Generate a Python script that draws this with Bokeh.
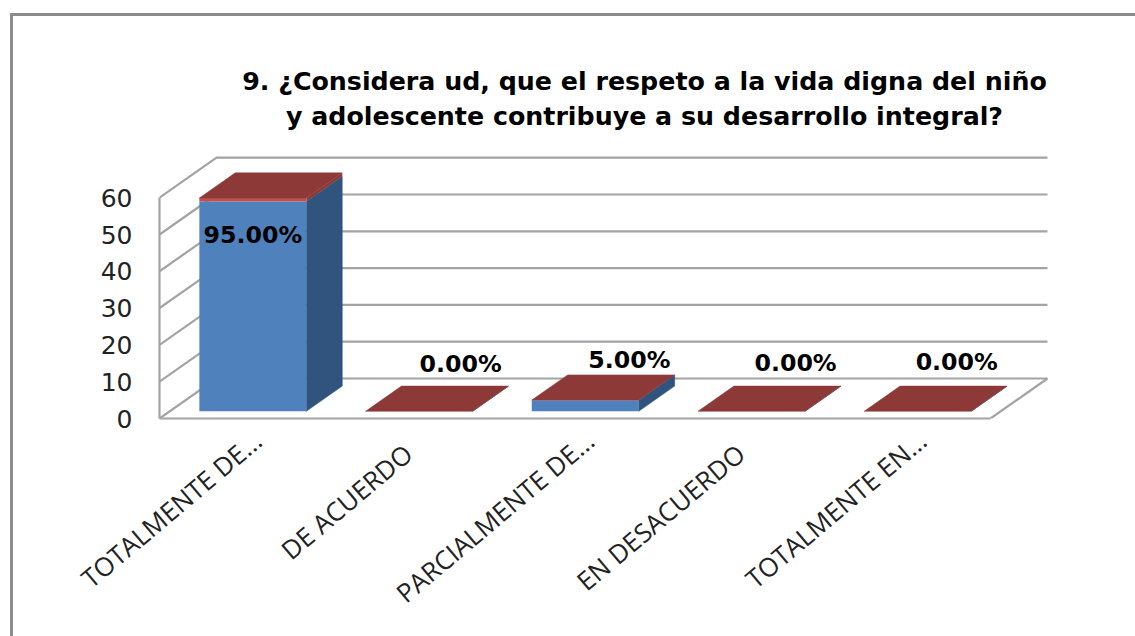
from bokeh.plotting import figure
from bokeh.embed import file_html
from bokeh.resources import INLINE
from bokeh.models import FixedTicker, Title, ColumnDataSource, InlineStyleSheet
from bokeh.core.properties import value

# ---- data ----
categories = ["TOTALMENTE DE...", "DE ACUERDO", "PARCIALMENTE DE...", "EN DESACUERDO", "TOTALMENTE EN..."]
counts = [57, 0, 3, 0, 0]
shares = [0.95, 0.0, 0.05, 0.0, 0.0]
share_labels = ["95.00%", "0.00%", "5.00%", "0.00%", "0.00%"]
y_ticks = [0, 10, 20, 30, 40, 50, 60]
title_line1 = "9. ¿Considera ud, que el respeto a la vida digna del niño"
title_line2 = "y adolescente contribuye a su desarrollo integral?"

# ---- scene geometry (oblique projection in axis units) ----
PX_X = 166.2          # px per category
PX_Y = 3.68           # px per value unit
DX = 57 / PX_X        # full floor depth in x units
DY = 40 / PX_Y        # full floor depth in y units
N = len(categories)
YMAX = 60
BAR_W = 107 / PX_X
D0, D1 = 0.18, 0.81   # bar depth extent along the floor depth
LABEL_SHIFT = 0.09    # where rotated category labels end, relative to centre
W, H = 1135, 636
B_LEFT, B_RIGHT, B_TOP, B_BOTTOM = 159, 6, 132, 218

GRID = "#a3a3a3"
BLUE, BLUE_SIDE = "#4f81bd", "#31547e"
RED, RED_TOP = "#c0504d", "#8c3937"

border_css = InlineStyleSheet(css=""":host::after {
  content: ""; position: absolute; left: 10px; top: 13px; right: 0; bottom: 0;
  border-left: 3px solid #8c8c8c; border-top: 3px solid #8c8c8c; pointer-events: none;
}""")

p = figure(width=W, height=H, output_backend="svg", toolbar_location=None,
           x_range=(0, (W - B_LEFT - B_RIGHT) / PX_X), y_range=(0, (H - B_TOP - B_BOTTOM) / PX_Y),
           min_border_left=B_LEFT, min_border_right=B_RIGHT, min_border_bottom=B_BOTTOM, min_border_top=B_TOP,
           outline_line_color=None, background_fill_color="white", border_fill_color="white",
           stylesheets=[border_css])
p.grid.visible = False

for line, standoff in ((title_line2, 3), (title_line1, 5)):
    p.add_layout(Title(text=line, align="center", text_font="DejaVu Sans", text_font_size="25.3px",
                       text_font_style="bold", text_color="black", standoff=standoff), "above")

# walls and floor
wall_x, wall_y = [], []
for v in y_ticks:
    wall_x.append([0, DX, N + DX])
    wall_y.append([v, v + DY, v + DY])
p.multi_line(wall_x, wall_y, line_color=GRID, line_width=2.2)
p.line([N, N + DX], [0, DY], line_color=GRID, line_width=2.2)

# bars
xc = [i + 0.5 + D0 * DX for i in range(N)]
base = D0 * DY
dx = (D1 - D0) * DX
dy = (D1 - D0) * DY
tops = [base + c + s for c, s in zip(counts, shares)]
mids = [base + c for c in counts]
lefts = [x - BAR_W / 2 for x in xc]
rights = [x + BAR_W / 2 for x in xc]

# side faces
p.patches([[r, r + dx, r + dx, r] for r in rights],
          [[base, base + dy, m + dy, m] for m in mids],
          fill_color=BLUE_SIDE, line_color=BLUE_SIDE, line_width=0.5)
p.patches([[r, r + dx, r + dx, r] for r in rights],
          [[m, m + dy, t_ + dy, t_] for m, t_ in zip(mids, tops)],
          fill_color=RED_TOP, line_color=None)
# front faces
p.vbar(x=xc, width=BAR_W, bottom=base, top=mids, fill_color=BLUE, line_color=None)
p.vbar(x=xc, width=BAR_W, bottom=mids, top=tops, fill_color=RED, line_color=None)
# top faces
p.patches([[l, r, r + dx, l + dx] for l, r in zip(lefts, rights)],
          [[t_, t_, t_ + dy, t_ + dy] for t_ in tops],
          fill_color=RED_TOP, line_color=RED_TOP, line_width=0.5)

# data labels
label_dx = [0.0, 0.25, 0.265, 0.265, 0.235]
label_dy = [49.9, 14.8, 16.0, 15.2, 15.4]
src = ColumnDataSource(dict(x=[x + d for x, d in zip(xc, label_dx)], y=label_dy, text=share_labels))
p.text(x="x", y="y", text="text", source=src, text_align="center", text_baseline="middle",
       text_font=value("DejaVu Sans"), text_font_style="bold", text_font_size="23.7px", text_color="black")

# axes
ya = p.yaxis[0]
ya.ticker = FixedTicker(ticks=y_ticks)
ya.bounds = (0, YMAX)
ya.axis_line_color = GRID
ya.axis_line_width = 2.2
ya.major_tick_line_color = None
ya.minor_tick_line_color = None
ya.major_tick_in = 0
ya.major_tick_out = 0
ya.major_label_standoff = 27
ya.major_label_text_font = "DejaVu Sans"
ya.major_label_text_font_size = "25px"
ya.major_label_text_color = "#222222"

xa = p.xaxis[0]
ticks = [i + 0.5 + LABEL_SHIFT for i in range(N)]
xa.ticker = FixedTicker(ticks=ticks)
# labels that are not cut short sit further down their own slant, as in the original
xa.major_label_overrides = {k: (c if c.endswith("...") else c + "\u00a0\u00a0\u00a0")
                            for k, c in zip(ticks, categories)}
xa.bounds = (0, N)
xa.axis_line_color = GRID
xa.axis_line_width = 2.2
xa.major_tick_line_color = None
xa.minor_tick_line_color = None
xa.major_tick_in = 0
xa.major_tick_out = 0
xa.major_label_orientation = 0.70
xa.major_label_standoff = 18
xa.major_label_text_font = "Open Sans"
xa.major_label_text_font_size = "26px"
xa.major_label_text_color = "#222222"

open("out.html", "w").write(file_html(p, INLINE))
